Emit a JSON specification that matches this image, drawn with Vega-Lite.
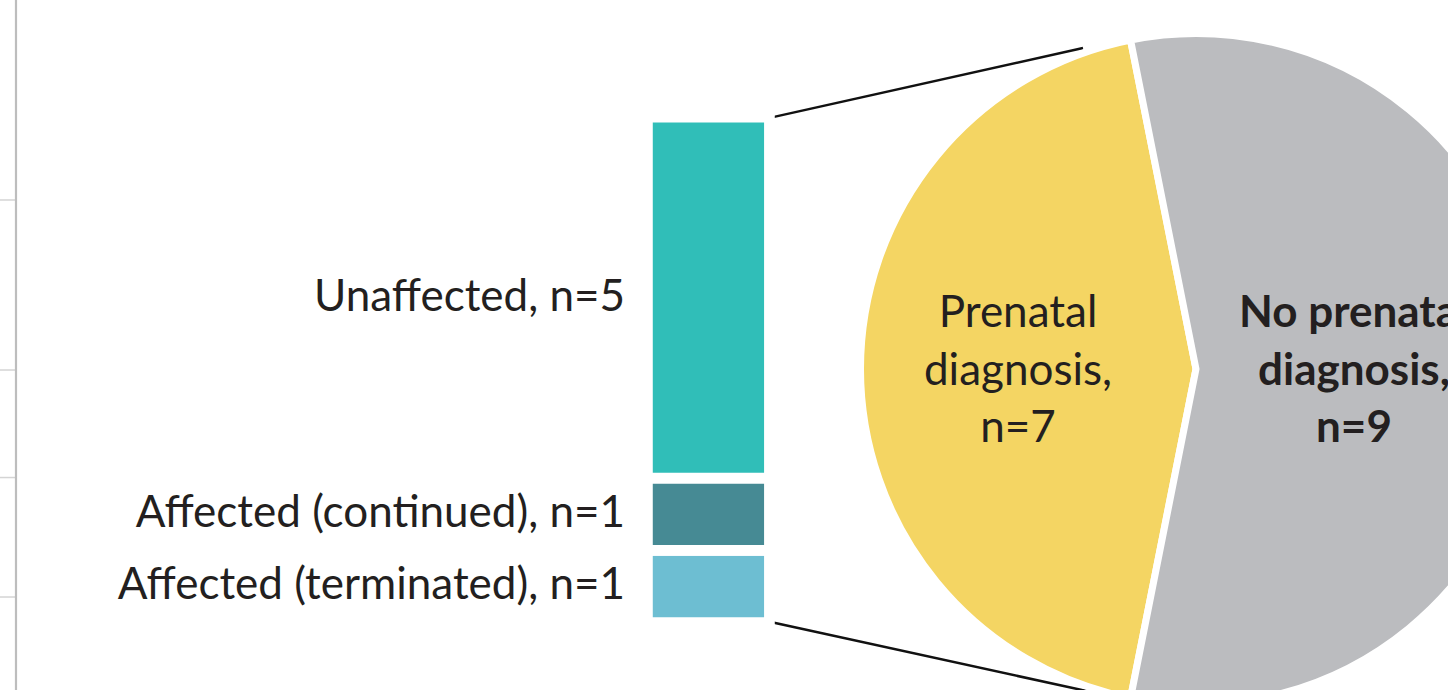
{
  "$schema": "https://vega.github.io/schema/vega-lite/v6.json",
  "width": 1448,
  "height": 690,
  "autosize": "none",
  "padding": 0,
  "background": "white",
  "config": {"view": {"stroke": null}, "text": {"font": "Lato"}},
  "datasets": {
    "bar": [
      {"outcome": "Affected (terminated)", "n": 1, "k": 1, "label": "Affected (terminated), n=1"},
      {"outcome": "Affected (continued)", "n": 1, "k": 2, "label": "Affected (continued), n=1"},
      {"outcome": "Unaffected", "n": 5, "k": 3, "label": "Unaffected, n=5"}
    ],
    "pie": [
      {"category": "Prenatal diagnosis", "n": 7, "label": "Prenatal\ndiagnosis,\nn=7"},
      {"category": "No prenatal diagnosis", "n": 9, "label": "No prenatal\ndiagnosis,\nn=9"}
    ],
    "ticks": [{"tick": 5.852}, {"tick": 3.497}, {"tick": 2.008}, {"tick": 0.353}]
  },
  "layer": [
    {
      "data": {"name": "ticks"},
      "mark": {"type": "rule", "color": "#d4d4d4", "strokeWidth": 1.5},
      "encoding": {
        "x": {"datum": 0, "scale": {"domain": [0, 20.0554], "nice": false, "zero": false, "padding": 0}, "axis": null},
        "x2": {"datum": 0.2216},
        "y": {"field": "tick", "type": "quantitative", "scale": {"domain": [-0.9349, 8.6219], "nice": false, "zero": false, "padding": 0}, "axis": null}
      }
    },
    {
      "data": {"values": [{}]},
      "mark": {"type": "rule", "color": "#bdbdbd", "strokeWidth": 2.2},
      "encoding": {
        "x": {"datum": 0.2216, "scale": {"domain": [0, 20.0554], "nice": false, "zero": false, "padding": 0}, "axis": null},
        "y": {"datum": -0.9349, "scale": {"domain": [-0.9349, 8.6219], "nice": false, "zero": false, "padding": 0}, "axis": null},
        "y2": {"datum": 8.6219}
      }
    },
    {
      "data": {"values": [{}]},
      "mark": {"type": "rule", "color": "#111111", "strokeWidth": 2.5},
      "encoding": {
        "x": {"datum": 10.706, "scale": {"domain": [0, 20.0554], "nice": false, "zero": false, "padding": 0}, "axis": null},
        "x2": {"datum": 15.0},
        "y": {"datum": 7.0, "scale": {"domain": [-0.9349, 8.6219], "nice": false, "zero": false, "padding": 0}, "axis": null},
        "y2": {"datum": 7.957}
      }
    },
    {
      "data": {"values": [{}]},
      "mark": {"type": "rule", "color": "#111111", "strokeWidth": 2.5},
      "encoding": {
        "x": {"datum": 10.706, "scale": {"domain": [0, 20.0554], "nice": false, "zero": false, "padding": 0}, "axis": null},
        "x2": {"datum": 15.1},
        "y": {"datum": 0.0, "scale": {"domain": [-0.9349, 8.6219], "nice": false, "zero": false, "padding": 0}, "axis": null},
        "y2": {"datum": -0.96}
      }
    },
    {
      "data": {"name": "pie"},
      "mark": {"type": "arc", "outerRadius": 335.5, "stroke": "white", "strokeWidth": 7},
      "encoding": {
        "x": {"datum": 16.565, "scale": {"domain": [0, 20.0554], "nice": false, "zero": false, "padding": 0}, "axis": null},
        "y": {"datum": 3.511, "scale": {"domain": [-0.9349, 8.6219], "nice": false, "zero": false, "padding": 0}, "axis": null},
        "theta": {"field": "n", "type": "quantitative", "stack": true, "scale": {"range": [3.3379, 9.6211]}},
        "order": {"field": "n", "type": "quantitative", "sort": "ascending"},
        "color": {
          "field": "category", "type": "nominal", "legend": null,
          "scale": {"domain": ["Prenatal diagnosis", "No prenatal diagnosis", "Unaffected", "Affected (continued)", "Affected (terminated)"],
                    "range": ["#f4d563", "#bbbcbf", "#30beb8", "#468a94", "#6dbed2"]}
        }
      }
    },
    {
      "data": {"name": "bar"},
      "mark": {"type": "bar", "width": 122, "stroke": "white", "strokeWidth": 10.7},
      "encoding": {
        "x": {"datum": 9.812, "scale": {"domain": [0, 20.0554], "nice": false, "zero": false, "padding": 0}, "axis": null},
        "y": {"field": "n", "type": "quantitative", "stack": "zero", "scale": {"domain": [-0.9349, 8.6219], "nice": false, "zero": false, "padding": 0}, "axis": null},
        "order": {"field": "k", "type": "quantitative", "sort": "ascending"},
        "color": {
          "field": "outcome", "type": "nominal", "legend": null,
          "scale": {"domain": ["Prenatal diagnosis", "No prenatal diagnosis", "Unaffected", "Affected (continued)", "Affected (terminated)"],
                    "range": ["#f4d563", "#bbbcbf", "#30beb8", "#468a94", "#6dbed2"]}
        }
      }
    },
    {
      "data": {"name": "bar"},
      "mark": {"type": "text", "align": "right", "baseline": "middle", "fontSize": 44, "color": "#231f20"},
      "encoding": {
        "x": {"datum": 8.657, "scale": {"domain": [0, 20.0554], "nice": false, "zero": false, "padding": 0}, "axis": null},
        "y": {"field": "n", "type": "quantitative", "stack": "zero", "bandPosition": 0.5, "scale": {"domain": [-0.9349, 8.6219], "nice": false, "zero": false, "padding": 0}, "axis": null},
        "order": {"field": "k", "type": "quantitative", "sort": "ascending"},
        "detail": {"field": "outcome", "type": "nominal"},
        "text": {"field": "label", "type": "nominal"}
      }
    },
    {
      "data": {"name": "pie"},
      "transform": [{"filter": "datum.category == 'Prenatal diagnosis'"}],
      "mark": {"type": "text", "align": "center", "baseline": "middle", "fontSize": 44, "lineHeight": 57.5, "lineBreak": "\n", "color": "#231f20"},
      "encoding": {
        "x": {"datum": 14.1, "scale": {"domain": [0, 20.0554], "nice": false, "zero": false, "padding": 0}, "axis": null},
        "y": {"datum": 4.266, "scale": {"domain": [-0.9349, 8.6219], "nice": false, "zero": false, "padding": 0}, "axis": null},
        "text": {"field": "label", "type": "nominal"}
      }
    },
    {
      "data": {"name": "pie"},
      "transform": [{"filter": "datum.category == 'No prenatal diagnosis'"}],
      "mark": {"type": "text", "align": "center", "baseline": "middle", "fontSize": 44, "fontWeight": "bold", "lineHeight": 57.5, "lineBreak": "\n", "color": "#231f20"},
      "encoding": {
        "x": {"datum": 18.753, "scale": {"domain": [0, 20.0554], "nice": false, "zero": false, "padding": 0}, "axis": null},
        "y": {"datum": 4.266, "scale": {"domain": [-0.9349, 8.6219], "nice": false, "zero": false, "padding": 0}, "axis": null},
        "text": {"field": "label", "type": "nominal"}
      }
    }
  ]
}
